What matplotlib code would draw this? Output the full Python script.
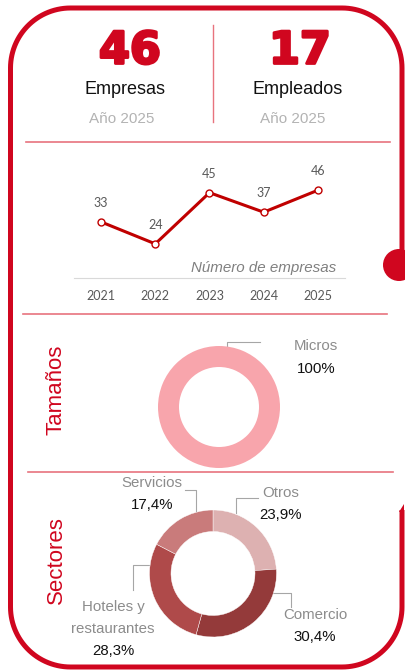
import numpy as np
import matplotlib
matplotlib.use("Agg")
import matplotlib.pyplot as plt
import matplotlib.patheffects as pe
from matplotlib.patches import Circle, Polygon

# data
years = ["2021", "2022", "2023", "2024", "2025"]
empresas = [33, 24, 45, 37, 46]
total_empresas = 46
total_empleados = 17
anio = "Año 2025"

tamano_labels = ["Micros"]
tamano_values = [100.0]

sector_labels = ["Otros", "Comercio", "Hoteles y\nrestaurantes", "Servicios"]
sector_values = [23.9, 30.4, 28.3, 17.4]
sector_colors = ["#DDB1B1", "#943A3A", "#AF4A4A", "#C97B7B"]

RED = "#D0061F"
SEP = "#E8737E"
GRAY = "#8C8C8C"
LIGHT = "#B3B3B3"
LEAD = "#A6A6A6"

W, H = 406, 671
fig = plt.figure(figsize=(W / 100, H / 100), dpi=100)

def px_axes(x0, y0, w, h):
    return fig.add_axes([x0 / W, 1 - (y0 + h) / H, w / W, h / H])

# base layer in pixel coordinates
ax = px_axes(0, 0, W, H)
ax.set_xlim(0, W)
ax.set_ylim(H, 0)
ax.axis("off")

# rounded border, open on the right side
R = 60
L, T, Rt, B = 10.5, 8, 402, 667
def arc(cx, cy, a0, a1):
    t = np.radians(np.linspace(a0, a1, 30))
    return list(zip(cx + R * np.cos(t), cy - R * np.sin(t)))
pts = [(Rt, 264)]
pts += arc(Rt - R, T + R, 0, 90)
pts += arc(L + R, T + R, 90, 180)
pts += arc(L + R, B - R, 180, 270)
pts += arc(Rt - R, B - R, 270, 360)
pts += [(Rt, 510)]
xs, ys = zip(*pts)
ax.plot(xs, ys, color=RED, lw=3.6, solid_capstyle="butt")
ax.add_patch(Polygon([(399.5, 512), (404.5, 512), (404.5, 504)], color=RED, lw=0))
ax.add_patch(Circle((399, 265), 16, color=RED, lw=0))

# separators
ax.plot([213, 213], [25, 122], color=SEP, lw=1)
ax.plot([26, 390], [142, 142], color=SEP, lw=1.2)
ax.plot([23, 387], [314, 314], color=SEP, lw=1.2)
ax.plot([28, 393], [472, 472], color=SEP, lw=1.2)

# header
heavy = [pe.withStroke(linewidth=2, foreground=RED)]
ax.text(130, 51, str(total_empresas), color=RED, fontsize=32, fontweight="bold",
        ha="center", va="center", family="DejaVu Sans", path_effects=heavy)
ax.text(300, 51, str(total_empleados), color=RED, fontsize=32, fontweight="bold",
        ha="center", va="center", family="DejaVu Sans", path_effects=heavy)
ax.text(125, 89, "Empresas", fontsize=13, ha="center", va="center",
        family="Liberation Sans", color="#111111")
ax.text(298, 89, "Empleados", fontsize=13, ha="center", va="center",
        family="Liberation Sans", color="#111111")
ax.text(122, 119, anio, fontsize=11, ha="center", va="center",
        family="Liberation Sans", color=LIGHT)
ax.text(293, 119, anio, fontsize=11, ha="center", va="center",
        family="Liberation Sans", color=LIGHT)

# line chart
lx = px_axes(74, 160, 271, 118)
xpos = np.arange(len(years))
lx.plot(xpos, empresas, color="#C00000", lw=2.2, marker="o", ms=5,
        mfc="white", mec="#C00000", mew=1)
for x, v in zip(xpos, empresas):
    lx.annotate(str(v), (x, v), xytext=(0, 13.5), textcoords="offset points",
                ha="center", va="center", fontsize=9, color="#595959", family="Lato")
lx.set_xlim(-0.5, len(years) - 0.5)
lx.set_ylim(10, 58.4)
lx.set_xticks(xpos)
lx.set_xticklabels(years, fontsize=9, color="#595959", family="Lato")
lx.tick_params(axis="x", length=0, pad=8.5)
lx.set_yticks([])
for s in ["top", "left", "right"]:
    lx.spines[s].set_visible(False)
lx.spines["bottom"].set_color("#D9D9D9")
lx.patch.set_alpha(0)
ax.text(336, 268, "Número de empresas", fontsize=10.9, style="italic",
        ha="right", va="center", family="Liberation Sans", color="#808080")

# side titles
ax.text(56, 390, "Tamaños", rotation=90, fontsize=16, color=RED,
        ha="center", va="center", family="Liberation Sans")
ax.text(56, 560, "Sectores", rotation=90, fontsize=16, color=RED,
        ha="center", va="center", family="Liberation Sans")

# donut: tamaños
tx = px_axes(219 - 61, 407 - 61, 122, 122)
tx.pie(tamano_values, colors=["#F8A5AC"], startangle=90, counterclock=False,
       radius=1, wedgeprops=dict(width=21 / 61, edgecolor="white", linewidth=0))
tx.set_xlim(-1, 1)
tx.set_ylim(-1, 1)
tx.set_aspect("equal")
ax.plot([227, 227, 260], [347, 342, 342], color=LEAD, lw=0.8)
ax.text(316, 346, tamano_labels[0], fontsize=10.8, ha="center", va="center",
        family="Liberation Sans", color=GRAY)
ax.text(316, 369, f"{tamano_values[0]:.0f}%", fontsize=10.8, ha="center", va="center",
        family="Liberation Sans", color="#111111")

# donut: sectores
sx = px_axes(213 - 63.5, 573.5 - 63.5, 127, 127)
sx.pie(sector_values, colors=sector_colors, startangle=90, counterclock=False,
       radius=1, wedgeprops=dict(width=21.5 / 63.5, edgecolor="white", linewidth=0.3))
sx.set_xlim(-1, 1)
sx.set_ylim(-1, 1)
sx.set_aspect("equal")

def pct(v):
    return f"{v:.1f}%".replace(".", ",")

# leader lines
ax.plot([236, 236, 258], [513, 498, 498], color=LEAD, lw=0.8)
ax.plot([273, 291, 291], [593, 593, 607], color=LEAD, lw=0.8)
ax.plot([149, 133, 133], [565, 565, 590], color=LEAD, lw=0.8)
ax.plot([196, 196, 185], [513, 490, 490], color=LEAD, lw=0.8)

label_pos = [(281, 493), (315, 615), (113, 607), (152, 483)]
for lab, v, (x, y) in zip(sector_labels, sector_values, label_pos):
    lines = lab.split("\n")
    for i, ln in enumerate(lines):
        ax.text(x, y + i * 22, ln, fontsize=10.8, ha="center", va="center",
                family="Liberation Sans", color=GRAY)
    ax.text(x, y + len(lines) * 22, pct(v), fontsize=10.8, ha="center", va="center",
            family="Liberation Sans", color="#111111")

fig.savefig("out.png", dpi=100)
